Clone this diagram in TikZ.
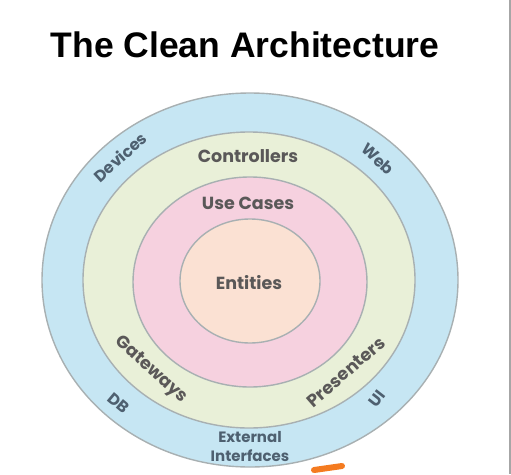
\documentclass[tikz,border=0pt]{standalone}
\usepackage{fontspec}
\setmainfont{Liberation Sans}
\newfontfamily\labfont{Poppins}
\definecolor{ringblue}{HTML}{C6E6F3}
\definecolor{ringgreen}{HTML}{E9F0D8}
\definecolor{ringpink}{HTML}{F6D1DF}
\definecolor{ringpeach}{HTML}{FBE1D3}
\definecolor{ringline}{HTML}{A8B0B2}
\definecolor{innertext}{HTML}{5A5858}
\definecolor{outertext}{HTML}{4E6070}
\definecolor{marker}{HTML}{F47B20}
\tikzset{
  ring/.style={draw=ringline, line width=1.4pt},
  inlab/.style={font=\labfont\bfseries\fontsize{17.5}{19}\selectfont, text=innertext, inner sep=0pt},
  outlab/.style={font=\labfont\bfseries\fontsize{16}{18}\selectfont, text=outertext, inner sep=0pt},
}
\begin{document}
\begin{tikzpicture}[x=1pt,y=-1pt]
\useasboundingbox (0,0) rectangle (511,474);
\fill[white] (0,0) rectangle (511,474);
\node[anchor=base, font=\bfseries\fontsize{35.5}{40}\selectfont, inner sep=0pt] (title) at (245,57) {The Clean Architecture};
\path[ring, fill=ringblue] (250,280) ellipse [x radius=208pt, y radius=187pt];
\path[ring, fill=ringgreen] (249,280) ellipse [x radius=166pt, y radius=148pt];
\path[ring, fill=ringpink] (250,282) ellipse [x radius=117pt, y radius=105pt];
\path[ring, fill=ringpeach] (250,281) ellipse [x radius=70pt, y radius=62pt];
\node[inlab] (ent) at (249,283) {Entities};
\node[inlab] (uc) at (248,203) {Use Cases};
\node[inlab] (ctl) at (248,156) {Controllers};
\node[inlab, rotate=-42] (gw) at (151,370) {Gateways};
\node[inlab, rotate=41] (pr) at (346,372) {Presenters};
\node[outlab, rotate=42] (dev) at (120,157) {Devices};
\node[outlab, rotate=-42] (web) at (378,159) {Web};
\node[outlab, rotate=-40] (db) at (119,403) {DB};
\node[outlab, rotate=52] (ui) at (377,399) {UI};
\node[outlab, align=center, font=\labfont\bfseries\fontsize{15}{19}\selectfont] (ext) at (250,447) {External\\Interfaces};
\draw[marker, line width=6pt, line cap=round] (314,470) -- (342,466);
\draw[gray!70, line width=1.2pt] (510,0) -- (510,474);
\end{tikzpicture}
\end{document}
